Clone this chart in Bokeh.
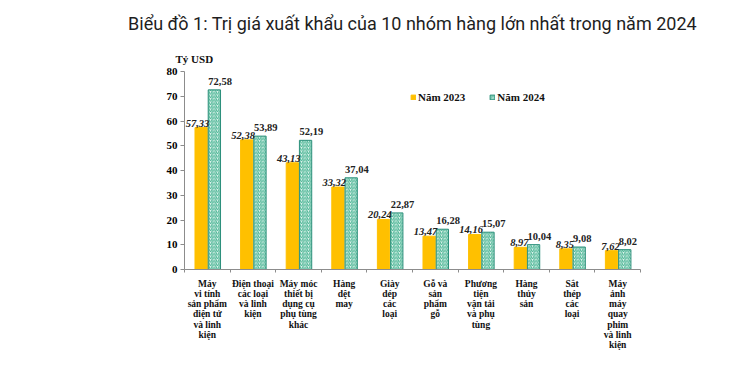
from bokeh.plotting import figure
from bokeh.models import (ColumnDataSource, LabelSet, Legend, LegendItem, Title,
                          LinearAxis, Range1d, FixedTicker)
from bokeh.transform import dodge
from bokeh.embed import file_html
from bokeh.resources import INLINE

title_text = "Biểu đồ 1: Trị giá xuất khẩu của 10 nhóm hàng lớn nhất trong năm 2024"
unit_text = "Tỷ USD"
categories = [
    "Máy\nvi tính\nsản phẩm\nđiện tử\nvà linh\nkiện",
    "Điện thoại\ncác loại\nvà linh\nkiện",
    "Máy móc\nthiết bị\ndụng cụ\nphụ tùng\nkhác",
    "Hàng\ndệt\nmay",
    "Giày\ndép\ncác\nloại",
    "Gỗ và\nsản\nphẩm\ngỗ",
    "Phương\ntiện\nvận tải\nvà phụ\ntùng",
    "Hàng\nthủy\nsản",
    "Sắt\nthép\ncác\nloại",
    "Máy\nảnh\nmáy\nquay\nphim\nvà linh\nkiện",
]
series_names = ["Năm 2023", "Năm 2024"]
values_2023 = [57.33, 52.38, 43.13, 33.32, 20.24, 13.47, 14.16, 8.97, 8.35, 7.62]
values_2024 = [72.58, 53.89, 52.19, 37.04, 22.87, 16.28, 15.07, 10.04, 9.08, 8.02]
y_ticks = [0, 10, 20, 30, 40, 50, 60, 70, 80]

def fmt(v):
    return f"{v:.2f}".replace(".", ",")

n = len(categories)
centers = [i + 0.5 for i in range(n)]
bounds = [float(i) for i in range(n + 1)]

source = ColumnDataSource(dict(
    x=centers,
    v23=values_2023,
    v24=values_2024,
    t23=[fmt(v) for v in values_2023],
    t24=[fmt(v) for v in values_2024],
))

SERIF = "Liberation Serif"
AXIS_COLOR = "#8c8c8c"

p = figure(
    x_range=Range1d(0, n),
    y_range=Range1d(0, 80),
    width=744, height=368,
    output_backend="svg", toolbar_location=None,
    x_axis_location=None, y_axis_location=None,
    min_border_left=184, min_border_right=104,
    min_border_top=71, min_border_bottom=99,
)
p.outline_line_color = None
p.xgrid.visible = False
p.ygrid.visible = False
p.background_fill_color = "white"
p.border_fill_color = "white"

# y axis
yax = LinearAxis(ticker=FixedTicker(ticks=y_ticks, minor_ticks=[]))
yax.axis_line_color = AXIS_COLOR
yax.major_tick_line_color = AXIS_COLOR
yax.major_tick_out = 4
yax.major_tick_in = 0
yax.minor_tick_line_color = None
yax.major_label_standoff = 3
yax.major_label_text_font = SERIF
yax.major_label_text_font_style = "bold"
yax.major_label_text_font_size = "11px"
yax.major_label_text_color = "black"
p.add_layout(yax, "left")

# x axis: labels at category centres, small ticks at category boundaries
xax = LinearAxis(ticker=FixedTicker(ticks=centers, minor_ticks=bounds),
                 major_label_overrides={c: lab for c, lab in zip(centers, categories)})
xax.axis_line_color = AXIS_COLOR
xax.major_tick_line_color = None
xax.major_tick_out = 0
xax.major_tick_in = 0
xax.minor_tick_line_color = AXIS_COLOR
xax.minor_tick_out = 3
xax.minor_tick_in = 0
xax.major_label_standoff = 6
xax.major_label_text_font = SERIF
xax.major_label_text_font_style = "bold"
xax.major_label_text_font_size = "9.5px"
xax.major_label_text_line_height = 1.03
xax.major_label_text_color = "#111111"
p.add_layout(xax, "below")

r23 = p.vbar(x=dodge("x", -0.135), top="v23", width=0.27,
             source=source, fill_color="#FFC000", line_color="#FFC000")
r24 = p.vbar(x=dodge("x", 0.155), top="v24", width=0.27,
             source=source, fill_color="#e3f6ef", line_color="#2b8f7a", line_width=1,
             hatch_pattern="/", hatch_color="#45b291", hatch_scale=3.5, hatch_weight=1)

lab23 = LabelSet(x="x", y="v23", text="t23", source=source,
                 text_align="right", text_baseline="bottom", x_offset=2, y_offset=1,
                 text_font=SERIF, text_font_style="bold italic", text_font_size="10.5px",
                 text_color="#222222")
lab24 = LabelSet(x="x", y="v24", text="t24", source=source,
                 text_align="left", text_baseline="bottom", x_offset=1, y_offset=5,
                 text_font=SERIF, text_font_style="bold", text_font_size="10.5px",
                 text_color="#222222")
p.add_layout(lab23)
p.add_layout(lab24)

legend = Legend(items=[LegendItem(label=series_names[0], renderers=[r23]),
                       LegendItem(label=series_names[1], renderers=[r24])],
                location=(226, 166), orientation="horizontal",
                glyph_width=6, glyph_height=6, label_standoff=2, spacing=24,
                padding=0, margin=0, label_height=10, label_width=10,
                border_line_color=None, background_fill_alpha=0,
                label_text_font=SERIF, label_text_font_style="bold",
                label_text_font_size="11px", label_text_color="#111111")
p.add_layout(legend)

unit_title = Title(text=unit_text, align="left", offset=-9, standoff=14,
                   text_font=SERIF, text_font_style="bold", text_font_size="11px",
                   text_color="#111111")
main_title = Title(text=title_text, align="center", offset=0, standoff=20,
                   text_font="Roboto", text_font_style="normal", text_font_size="18px",
                   text_color="#1e1e1e")
p.add_layout(unit_title, "above")
p.add_layout(main_title, "above")

open("out.html", "w").write(file_html(p, INLINE))
